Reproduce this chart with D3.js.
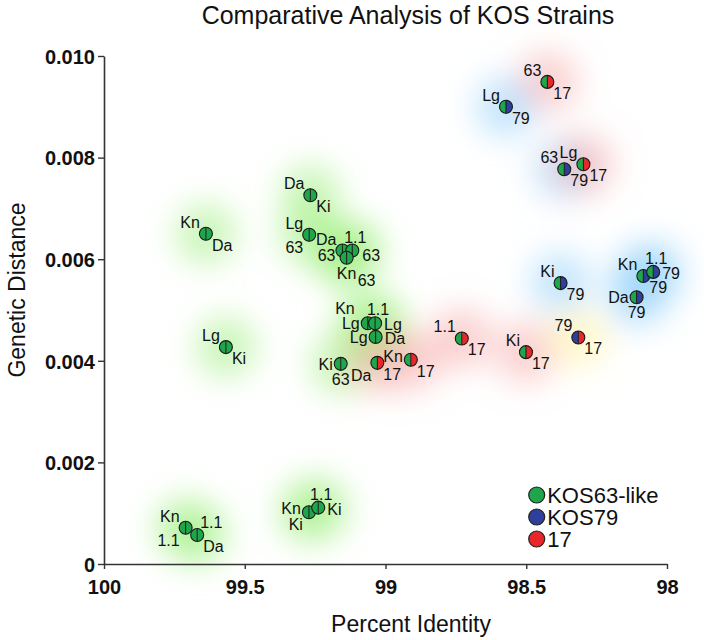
<!DOCTYPE html>
<html>
<head>
<meta charset="utf-8">
<script src="https://cdn.jsdelivr.net/npm/d3@7/dist/d3.min.js"></script>
<style>
  html, body { margin: 0; padding: 0; background: #fff; }
  svg { display: block; font-family: "Liberation Sans", Arial, sans-serif; }
</style>
</head>
<body>
<svg id="chart" width="704" height="640"></svg>
<script>
// ---------------- DATA ----------------
const percentIdentity = [99.638, 99.567, 99.267, 99.271, 99.153, 99.118, 99.138,
  99.063, 99.037, 99.035, 99.159, 99.029, 98.910, 98.729, 98.501,
  98.425, 98.572, 98.365, 98.297, 98.378, 98.084, 98.049, 98.108, 98.315,
  99.710, 99.669, 99.272, 99.239];
const geneticDistance = [0.00650, 0.00427, 0.00726, 0.00648, 0.00617, 0.00617, 0.00603,
  0.00474, 0.00474, 0.00447, 0.00394, 0.00396, 0.00402, 0.00444, 0.00417,
  0.00949, 0.00900, 0.00777, 0.00787, 0.00553, 0.00567, 0.00575, 0.00525, 0.00446,
  0.000715, 0.000571, 0.00102, 0.00111];
// strain group of the left / right half of each marker
const leftGroup = ["63","63","63","63","63","63","63",
  "63","63","63","63","63","63","63","63",
  "63","63","63","63","63","63","63","63","79",
  "63","63","63","63"];
const rightGroup = ["63","63","63","63","63","63","63",
  "63","63","63","63","17","17","17","17",
  "17","79","79","17","79","79","79","79","17",
  "63","63","63","63"];
const haloGroup = ["63","63","63","63","63","63","63",
  "63","63","63","63","17","17","17","17",
  "17","79","79","17","79","79","79","79","yellow",
  "63","63","63","63"];
const labelA = ["Kn","Lg","Da","Lg","Da","1.1","Kn",
  "Kn","1.1","Lg","Ki","Da","Kn","1.1","Ki",
  "63","Lg","63","Lg","Ki","Kn","1.1","Da","79",
  "Kn","1.1","Kn","1.1"];
const labelB = ["Da","Ki","Ki","63","63","63","63",
  "Lg","Lg","Da","63","17","17","17","17",
  "17","79","79","17","79","79","79","79","17",
  "1.1","Da","Ki","Ki"];
const placeA = ["nw","nw","nw","nw","nw","n","s",
  "nww","n","w","w","sw","wnw","nw","nw",
  "nw","nw","nw","nw","nw","nw","n","w","nw",
  "nw","ne","wnw","n"];
const placeB = ["se","se","se","sw","wsw","ese","sse",
  "w","e","e","s","se","se","se","se",
  "se","se","se","se","se","se","e","s","se",
  "sw","se","sw","e"];
const xTicks = [100, 99.5, 99, 98.5, 98];
const xTickLabels = ["100", "99.5", "99", "98.5", "98"];
const yTicks = [0, 0.002, 0.004, 0.006, 0.008, 0.010];
const yTickLabels = ["0", "0.002", "0.004", "0.006", "0.008", "0.010"];
const legendGroups = ["63", "79", "17"];
const legendLabels = ["KOS63-like", "KOS79", "17"];

// ---------------- STYLE ----------------
const colors = { "63": "#1fa64b", "79": "#2f3f9c", "17": "#e8262b" };
const haloColors = { "63": "#9cee7c", "79": "#8fd0fa", "17": "#f8a8a8", "yellow": "#fff3a0" };

const svg = d3.select("#chart");
const x = d3.scaleLinear().domain([100, 98]).range([104, 667]);
const y = d3.scaleLinear().domain([0, 0.010]).range([564, 56]);

const points = percentIdentity.map((v, i) => ({
  x: v, y: geneticDistance[i], l: leftGroup[i], r: rightGroup[i], h: haloGroup[i],
  a: labelA[i], b: labelB[i], pa: placeA[i], pb: placeB[i]
}));

// halos (blurred)
const defs = svg.append("defs");
defs.append("filter").attr("id", "blur")
  .attr("filterUnits", "userSpaceOnUse").attr("x", 0).attr("y", 0).attr("width", 704).attr("height", 640)
  .append("feGaussianBlur").attr("stdDeviation", 16);
svg.append("g").attr("filter", "url(#blur)").selectAll("circle").data(points).join("circle")
  .attr("cx", d => x(d.x)).attr("cy", d => y(d.y)).attr("r", 30)
  .attr("fill", d => haloColors[d.h]).attr("fill-opacity", 0.55);

// axes
const xAxis = d3.axisBottom(x).tickValues(xTicks).tickFormat((d, i) => xTickLabels[i])
  .tickSize(5).tickSizeOuter(0).tickPadding(11);
const yAxis = d3.axisLeft(y).tickValues(yTicks).tickFormat((d, i) => yTickLabels[i])
  .tickSize(6).tickSizeOuter(0).tickPadding(3);
const gx = svg.append("g").attr("transform", "translate(0,564)").call(xAxis);
const gy = svg.append("g").attr("transform", "translate(104,0)").call(yAxis);
[gx, gy].forEach(g => {
  g.select(".domain").attr("stroke", "#333").attr("stroke-width", 1.6);
  g.selectAll(".tick line").attr("stroke", "#333").attr("stroke-width", 1.4);
  g.selectAll(".tick text").attr("fill", "#111").attr("font-size", 20).attr("font-weight", "bold")
    .attr("font-family", "'Liberation Sans', Arial, sans-serif");
});
gy.selectAll(".tick text").attr("dy", "0.36em");

// titles
svg.append("text").attr("x", 408).attr("y", 24).attr("text-anchor", "middle")
  .attr("font-size", 25).attr("fill", "#111").text("Comparative Analysis of KOS Strains");
svg.append("text").attr("x", 411).attr("y", 632).attr("text-anchor", "middle")
  .attr("font-size", 23).attr("fill", "#111").text("Percent Identity");
svg.append("text").attr("transform", "translate(25,290) rotate(-90)").attr("text-anchor", "middle")
  .attr("font-size", 23).attr("fill", "#111").text("Genetic Distance");

// markers
const R = 6.5;
const mk = svg.append("g").selectAll("g").data(points).join("g")
  .attr("transform", d => `translate(${x(d.x)},${y(d.y)})`);
mk.append("path").attr("d", `M0,${-R}A${R},${R} 0 0 0 0,${R}Z`).attr("fill", d => colors[d.l]);
mk.append("path").attr("d", `M0,${-R}A${R},${R} 0 0 1 0,${R}Z`).attr("fill", d => colors[d.r]);
mk.append("line").attr("x1", 0).attr("x2", 0).attr("y1", -R).attr("y2", R)
  .attr("stroke", "#1a1a1a").attr("stroke-width", 1);
mk.append("circle").attr("r", R).attr("fill", "none").attr("stroke", "#1a1a1a").attr("stroke-width", 1.1);

// labels
const place = {
  nw: [-6, -6, "end"], nww: [-13, -9, "end"], se: [6, 17, "start"], w: [-8, 6, "end"],
  wnw: [-8, 2, "end"], wsw: [-7, 10, "end"], e: [9, 7, "start"], ese: [10, 10, "start"],
  n: [3, -8, "middle"], s: [0, 21, "middle"], sw: [-6, 18, "end"], ne: [3, -7, "start"],
  sse: [11, 28, "start"]
};
const lab = svg.append("g").attr("font-size", 16).attr("fill", "#111");
points.forEach(d => {
  [[d.a, d.pa], [d.b, d.pb]].forEach(([t, p]) => {
    const o = place[p];
    lab.append("text").attr("x", x(d.x) + o[0]).attr("y", y(d.y) + o[1])
      .attr("text-anchor", o[2]).text(t);
  });
});

// legend
const lg = svg.append("g").selectAll("g").data(legendGroups).join("g")
  .attr("transform", (d, i) => `translate(536.7,${495 + i * 22})`);
lg.append("circle").attr("r", 8).attr("fill", d => colors[d]).attr("stroke", "#222").attr("stroke-width", 1.2);
lg.append("text").attr("x", 10.5).attr("y", 8).attr("font-size", 22).attr("fill", "#111")
  .text((d, i) => legendLabels[i]);
</script>
</body>
</html>
